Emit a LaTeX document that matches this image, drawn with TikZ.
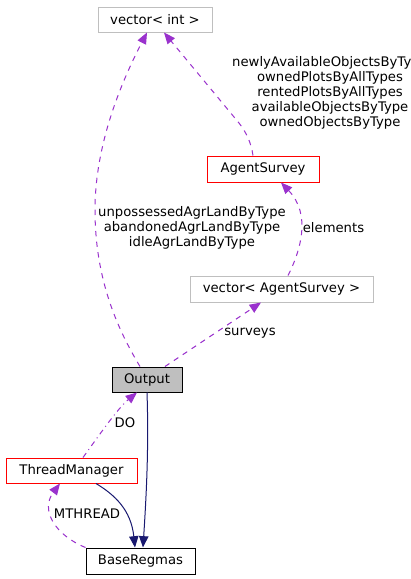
\documentclass[tikz,border=0pt]{standalone}
\usepackage{fontspec}
\setmainfont{DejaVu Sans}
\usetikzlibrary{arrows.meta,calc}
\definecolor{edgepurple}{HTML}{9A32CD}
\definecolor{edgenavy}{HTML}{191970}
\definecolor{boxgray}{HTML}{BFBFBF}
\tikzset{
  cls/.style={draw, line width=0.75pt, inner sep=0pt, font=\fontsize{9.9}{11.25}\selectfont, text=black},
  grayborder/.style={cls, draw=boxgray},
  redborder/.style={cls, draw=red},
  blackborder/.style={cls, draw=black},
  usage/.style={draw=edgepurple, line width=0.75pt, dash pattern=on 4pt off 4pt, -{Triangle[length=8.5pt,width=7pt]}, edgepurple},
  usagedot/.style={draw=edgepurple, line width=0.75pt, dash pattern=on 4pt off 3pt on 0.75pt off 3pt, -{Triangle[length=8.5pt,width=7pt]}, edgepurple},
  inherit/.style={draw=edgenavy, line width=0.75pt, -{Triangle[length=8.5pt,width=7pt]}, edgenavy},
  lbl/.style={font=\fontsize{9.9}{11.25}\selectfont, align=center, inner sep=0pt, text=black}
}
\begin{document}
\begin{tikzpicture}[x=0.75pt,y=-0.75pt]
\useasboundingbox (0,0) rectangle (411,579);
\clip (0,0) rectangle (411,579);
\fill[white] (0,0) rectangle (411,579);
% nodes
\node[grayborder, minimum width=114*0.75pt, minimum height=25*0.75pt] (vint) at (155,19.5) {vector< int >};
\node[redborder, minimum width=112*0.75pt, minimum height=26*0.75pt] (as) at (263,169) {AgentSurvey};
\node[grayborder, minimum width=183*0.75pt, minimum height=26*0.75pt] (vas) at (281.5,289) {vector< AgentSurvey >};
\node[blackborder, fill=boxgray, minimum width=70*0.75pt, minimum height=25*0.75pt] (out) at (147,379.5) {Output};
\node[redborder, minimum width=131*0.75pt, minimum height=25*0.75pt] (tm) at (71.5,470.5) {ThreadManager};
\node[blackborder, minimum width=109*0.75pt, minimum height=26*0.75pt] (br) at (140.5,561) {BaseRegmas};
% edges
\draw[usage] ($(out.north)+(-7,0)$) .. controls (118,330) and (95,280) .. (95,210) .. controls (95,140) and (125,75) .. ($(vint.south)+(-8,0)$);
\draw[usage] ($(as.north)+(-10,0)$) .. controls (251,142) and (246,132) .. (239,123) -- ($(vint.south)+(9,0)$);
\draw[usage] ($(vas.north)+(6.5,0)$) .. controls (300,252) and (312,215) .. ($(as.south)+(18,0)$);
\draw[usage] ($(out.north)+(18,0)$) -- ($(vas.south)+(-20.5,0)$);
\draw[usagedot] ($(tm.north)+(11.5,0)$) .. controls (100,434) and (118,408) .. ($(out.south)+(-10,0)$);
\draw[usage] (br.north west) .. controls (55,535) and (40,510) .. ($(tm.south)+(-11.5,0)$);
\draw[inherit] (out.south) .. controls (149,450) and (146,500) .. ($(br.north)+(2.5,0)$);
\draw[inherit] ($(tm.south)+(24.5,0)$) .. controls (115,495) and (131,510) .. ($(br.north)+(-5.5,0)$);
% labels
\node[lbl] (l1) at (192,228) {unpossessedAgrLandByType\\abandonedAgrLandByType\\idleAgrLandByType};
\node[lbl] (l2) at (330,93) {newlyAvailableObjectsByType\\ownedPlotsByAllTypes\\rentedPlotsByAllTypes\\availableObjectsByType\\ownedObjectsByType};
\node[lbl] (l3) at (333.5,228) {elements};
\node[lbl] (l4) at (250,333) {surveys};
\node[lbl] (l5) at (125,423) {DO};
\node[lbl] (l6) at (87,514) {MTHREAD};
\end{tikzpicture}
\end{document}
